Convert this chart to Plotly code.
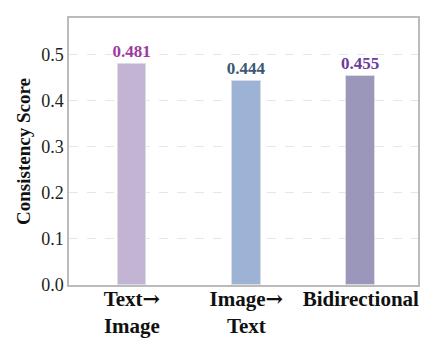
import plotly.graph_objects as go

arrow = '<span style="font-family:DejaVu Serif">→</span>'
categories = [f"Text{arrow}<br>Image", f"Image{arrow}<br>Text", "Bidirectional"]
scores = [0.481, 0.444, 0.455]
bar_colors = ["#C3B4D3", "#9DB3D5", "#9A97BA"]
label_colors = ["#9B3C9E", "#3B5872", "#6B3C9C"]

fig = go.Figure()

fig.add_trace(go.Bar(
    x=[0, 1, 2],
    y=scores,
    width=0.25,
    marker=dict(color=bar_colors, line=dict(color="#DCDCE4", width=1)),
    text=[f"<b>{v:.3f}</b>" for v in scores],
    textposition="outside",
    constraintext="none",
    textfont=dict(family="Liberation Serif", size=17, color=label_colors),
    cliponaxis=False,
    showlegend=False,
))

# page body adds an 8px margin, so the figure is a bit smaller than the window
fig.update_layout(
    width=431,
    height=330,
    margin=dict(l=61, r=21, t=10, b=53),
    plot_bgcolor="white",
    paper_bgcolor="white",
    font=dict(family="Liberation Serif", color="#111111"),
    bargap=0,
)

fig.update_xaxes(
    range=[-0.55, 2.5],
    tickvals=[0, 1, 2],
    ticktext=[f"<b>{c}</b>" for c in categories],
    tickfont=dict(size=21, color="#111111"),
    ticklabelstandoff=-6,
    showline=True, linecolor="#BBBBBB", linewidth=1.5, mirror=True,
    showgrid=False, ticks="", automargin=False,
)

fig.update_yaxes(
    range=[0, 0.58],
    tickvals=[0, 0.1, 0.2, 0.3, 0.4, 0.5],
    ticktext=["0.0", "0.1", "0.2", "0.3", "0.4", "0.5"],
    tickfont=dict(size=18, color="#222222"),
    title=dict(text="<b>Consistency Score</b>", font=dict(size=19, color="#111111"), standoff=6),
    showline=True, linecolor="#BBBBBB", linewidth=1.5, mirror=True,
    showgrid=True, gridcolor="#E6E6E6", griddash="dash", gridwidth=1,
    zeroline=False, ticks="", automargin=False,
)

fig.write_html("out.html")
